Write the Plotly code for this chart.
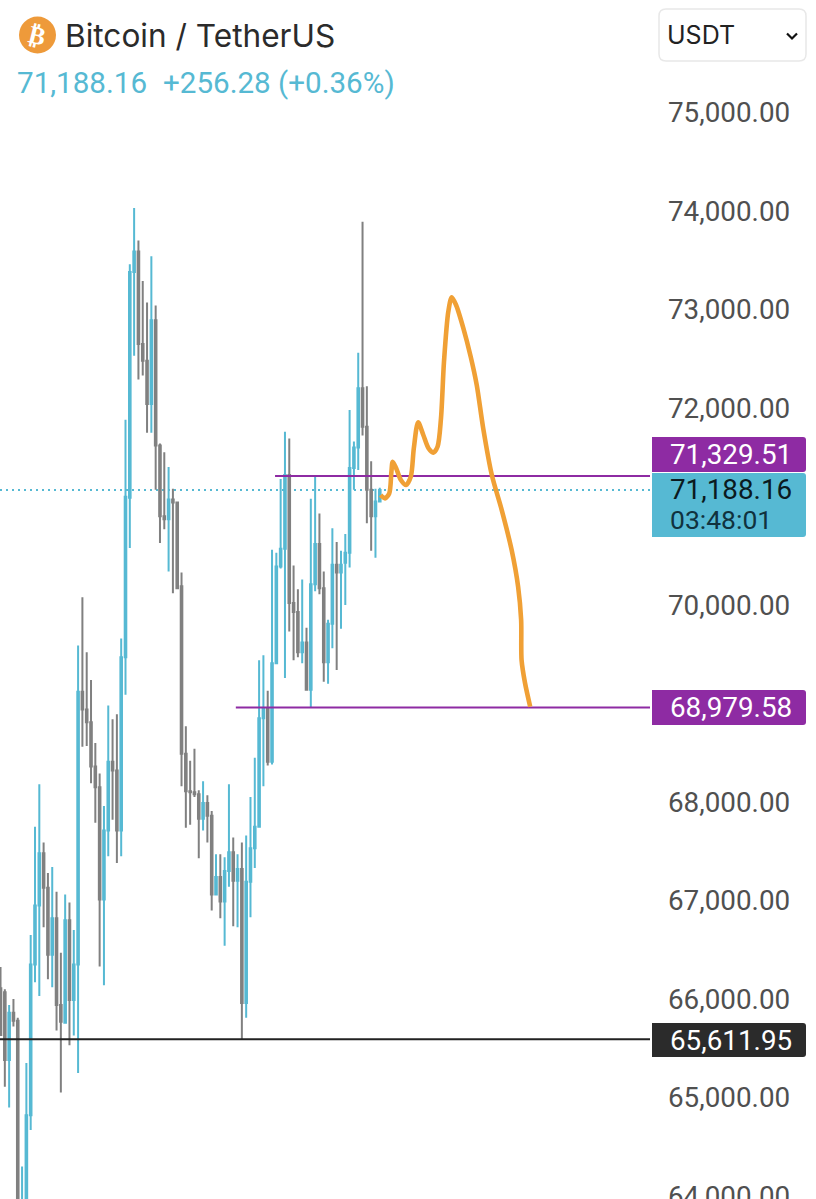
import plotly.graph_objects as go

opens = [66130,66090,65400,65880,65800,62960,63680,64840,66370,66970,67500,67150,66470,66840,65960,65780,66820,66010,66370,69140,
         68960,68830,68380,68170,67030,67730,68430,68340,67730,69490,71110,73400,73610,72670,72500,72060,72910,71640,70920,70890,
         71090,71060,70210,68510,68130,68120,68100,67850,68010,67880,67080,67260,67010,67320,67510,67220,67340,65980,67210,67550,
         67770,68870,68970,68430,69430,70410,70590,71340,70040,69950,69540,69640,69160,70230,70640,70190,69440,69830,70430,70350,
         70450,70550,71410,71620,72220,71830,71190,70920,71070]
highs = [66345,66120,65960,66020,65830,64320,65370,66670,67770,68200,67610,67300,67360,67110,66490,67080,67000,66720,69610,70100,
         69540,69260,68620,68310,67980,69000,68860,68910,69680,71900,73480,74050,73720,73310,73090,73560,73060,71660,71570,71420,
         71200,71070,70350,68790,68440,68560,68140,68230,68090,67930,67490,67490,67460,68200,67660,67490,67610,67680,68070,68470,
         69460,69510,69150,70580,70550,71300,71780,71710,70420,70180,70280,69790,71100,71320,70950,70360,69870,70800,70660,70570,
         70740,72000,71680,72580,73910,72240,71480,71200,71210]
lows = [65655,65130,64920,65740,63370,62760,63370,64690,66190,66050,66750,66220,66140,65700,65070,65780,65550,65650,65270,68580,
        68590,68210,67810,66350,66160,67470,67840,67400,67470,69110,70600,72550,72310,72350,71770,71770,71190,70650,70790,70360,
        70140,70190,68180,67760,67790,68070,67450,67730,67610,66920,67080,66840,66560,67160,66760,66750,65612,65830,66850,67350,
        67770,68180,68390,68400,69430,70390,69280,69750,69460,69490,69430,69160,68980,70160,70130,69240,69220,69580,69360,69780,
        70020,70400,71190,71390,71740,70850,70570,70500,71070]
closes = [65655,65400,65880,65800,63680,63680,64840,66370,66970,67500,67150,66470,66840,65960,65790,66820,66010,66370,69140,68960,
          68830,68380,68170,67030,67730,68430,68340,67730,69490,71120,73400,73610,72670,72500,72060,72910,71640,70920,70890,71090,
          71060,70190,68510,68130,68120,68100,67850,68010,67880,67080,67260,67010,67320,67510,67220,67340,65980,67210,67550,67770,
          68870,68970,68430,69430,70410,70590,71340,70040,69950,69540,69640,69160,70230,70640,70190,69440,69830,70430,70350,70430,
          70550,71410,71620,72220,71830,71190,70920,71070,71188.16]
candle_index = list(range(len(opens)))

sketch_index = [88.2,89.2,90.2,90.7,91.0,91.8,92.9,94.1,95.2,95.9,96.9,98.1,99.3,100.4,101.4,102.2,102.9,103.9,104.7,105.7,
                107.4,109.1,110.5,112.0,114.0,116.3,118.6,120.1,120.8,120.9,121.7,122.9]
sketch_price = [71137,71103,71154,71373,71475,71408,71289,71238,71323,71611,71875,71746,71611,71566,71627,71915,72490,72998,73144,73066,
                72829,72541,72253,71814,71340,70984,70578,70206,69868,69462,69228,68988]

tick_values = [75000,74000,73000,72000,70000,68000,67000,66000,65000,64000]
last_price = 71188.16
resistance = 71329.51
target = 68979.58
support = 65611.95
resistance_from = 63.7
target_from = 54.6
x_end = 150.7
x_start = -0.12

TEAL = "#56B9D3"
GREY = "#808080"
PURPLE = "#8E2BA3"
ORANGE = "#F0A035"
DARK = "#2B2B2B"
W, H, PLOT_R = 816, 1199, 650
FONT = "Inter, Roboto, sans-serif"
NUM = "Roboto, sans-serif"


def px(x):
    return x / PLOT_R


def py(y):
    return 1 - y / H


def tag(x0, y0, x1, y1, color):
    r = 3
    path = (f"M {px(x0)} {py(y0)} L {px(x1 - r)} {py(y0)} Q {px(x1)} {py(y0)} {px(x1)} {py(y0 + r)} "
            f"L {px(x1)} {py(y1 - r)} Q {px(x1)} {py(y1)} {px(x1 - r)} {py(y1)} L {px(x0)} {py(y1)} Z")
    return dict(type="path", xref="paper", yref="paper", path=path, fillcolor=color, line=dict(width=0))


def rounded(x0, y0, x1, y1, r, line_color):
    path = (f"M {px(x0 + r)} {py(y0)} L {px(x1 - r)} {py(y0)} Q {px(x1)} {py(y0)} {px(x1)} {py(y0 + r)} "
            f"L {px(x1)} {py(y1 - r)} Q {px(x1)} {py(y1)} {px(x1 - r)} {py(y1)} L {px(x0 + r)} {py(y1)} "
            f"Q {px(x0)} {py(y1)} {px(x0)} {py(y1 - r)} L {px(x0)} {py(y0 + r)} Q {px(x0)} {py(y0)} {px(x0 + r)} {py(y0)} Z")
    return dict(type="path", xref="paper", yref="paper", path=path, fillcolor="white",
                line=dict(color=line_color, width=1.5))


def label(x, y, text, size, color, anchor="left", **kw):
    return dict(xref="paper", yref="paper", x=px(x), y=py(y), text=text, showarrow=False, xanchor=anchor,
                yanchor="middle", font=dict(family=kw.pop("family", FONT), size=size, color=color), **kw)


fig = go.Figure()
fig.add_trace(go.Candlestick(
    x=candle_index, open=opens, high=highs, low=lows, close=closes,
    increasing=dict(line=dict(color=TEAL, width=2), fillcolor=TEAL),
    decreasing=dict(line=dict(color=GREY, width=2), fillcolor=GREY),
    whiskerwidth=0, showlegend=False, hoverinfo="skip"))
fig.add_trace(go.Scatter(x=[resistance_from, x_end], y=[resistance, resistance], mode="lines",
                         line=dict(color=PURPLE, width=2), showlegend=False, hoverinfo="skip"))
fig.add_trace(go.Scatter(x=[target_from, x_end], y=[target, target], mode="lines",
                         line=dict(color=PURPLE, width=2), showlegend=False, hoverinfo="skip"))
fig.add_trace(go.Scatter(x=[x_start, x_end], y=[support, support], mode="lines",
                         line=dict(color="#222222", width=2), showlegend=False, hoverinfo="skip"))
fig.add_trace(go.Scatter(x=sketch_index, y=sketch_price, mode="lines",
                         line=dict(color=ORANGE, width=4.6, shape="spline", smoothing=0.8),
                         showlegend=False, hoverinfo="skip"))

shapes = [
    dict(type="line", xref="x", yref="y", x0=x_start, x1=x_end, y0=last_price, y1=last_price, layer="below",
         line=dict(color=TEAL, width=2, dash="2px,4px")),
    tag(652, 437, 806, 472, PURPLE),
    tag(652, 473, 806, 537, TEAL),
    tag(652, 690, 806, 725, PURPLE),
    tag(652, 1023, 806, 1057, DARK),
    rounded(659, 9, 806, 61, 7, "#E8E8E8"),
    dict(type="circle", xref="paper", yref="paper", x0=px(19), x1=px(56), y0=py(16.5), y1=py(53.5),
         fillcolor="#EE9A3A", line=dict(width=0)),
    dict(type="path", xref="paper", yref="paper",
         path=f"M {px(787)} {py(33.5)} L {px(792)} {py(38.5)} L {px(797)} {py(33.5)}",
         line=dict(color="#111111", width=2.2), fillcolor="rgba(0,0,0,0)"),
]

annotations = [
    label(63, 36, "Bitcoin / TetherUS", 31.6, "#2B2B2B"),
    label(15, 83, "71,188.16", 29.6, TEAL, family=NUM),
    label(161, 83, "+256.28 (+0.36%)", 29.6, TEAL, family=NUM),
    label(37.5, 35, "<b>₿</b>", 25, "white", anchor="center", textangle=14, family="DejaVu Sans"),
    label(665, 35, "USDT", 25, "#222222"),
    label(668, 455, "71,329.51", 27.8, "white", family=NUM),
    label(668, 489, "71,188.16", 27.8, "#0B1A20", family=NUM),
    label(668, 519, "03:48:01", 26.5, "#10323E", family=NUM),
    label(668, 707, "68,979.58", 27.8, "white", family=NUM),
    label(668, 1040, "65,611.95", 27.8, "white", family=NUM),
]

fig.update_layout(
    width=W, height=H, margin=dict(l=0, r=W - PLOT_R, t=0, b=0, autoexpand=False),
    paper_bgcolor="white", plot_bgcolor="white", boxgap=0.47, showlegend=False,
    shapes=shapes, annotations=annotations,
    xaxis=dict(range=[x_start, x_end], visible=False, rangeslider=dict(visible=False), fixedrange=True),
    yaxis=dict(range=[63990, 76162], side="right", showgrid=False, zeroline=False, showline=False, ticks="",
               tickmode="array", tickvals=tick_values, tickformat=",.2f", ticklabelstandoff=17, ticklabelshift=-2,
               ticklabeloverflow="allow", tickfont=dict(family=NUM, size=27.8, color="#505050"),
               fixedrange=True, automargin=False),
)

fig.write_html("out.html", config=dict(displayModeBar=False),
               post_script="document.body.style.margin='0';document.documentElement.style.overflow='hidden';")
